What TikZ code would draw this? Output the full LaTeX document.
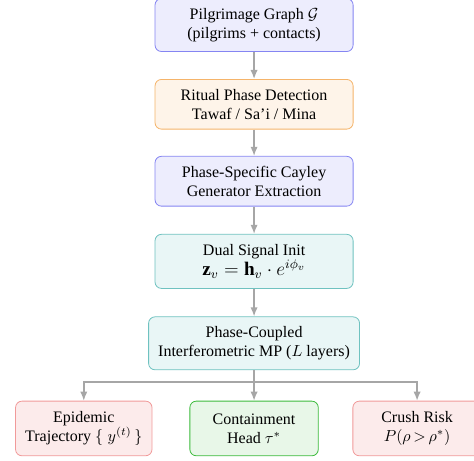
\documentclass[tikz,border=0pt]{standalone}
\usepackage{fontspec}
\setmainfont{Liberation Serif}
\usepackage{amsmath, amssymb}
\usetikzlibrary{arrows.meta,calc,positioning}
\definecolor{graphBlue}{HTML}{8585F2}
\definecolor{phaseOrange}{HTML}{F5B46A}
\definecolor{signalTeal}{HTML}{6FC2C0}
\definecolor{riskRed}{HTML}{F19A9A}
\definecolor{headGreen}{HTML}{3DBB3D}

\begin{document}
\begin{tikzpicture}[
  >=Latex,
  font=\normalsize,
  stage/.style={rounded corners=4pt, align=center, line width=0.5pt, inner sep=6pt, minimum width=4.35cm, minimum height=1.08cm},
  output/.style={rounded corners=4pt, align=center, line width=0.5pt, inner sep=6pt, minimum width=2.82cm, minimum height=1.2cm},
  bluebox/.style={draw=graphBlue, fill=graphBlue!15},
  orangebox/.style={draw=phaseOrange, fill=phaseOrange!15},
  tealbox/.style={draw=signalTeal, fill=signalTeal!15},
  redbox/.style={draw=riskRed, fill=riskRed!20},
  greenbox/.style={draw=headGreen, fill=headGreen!12},
  flow/.style={-{Latex[length=2mm, width=1.6mm]}, line width=0.9pt, draw=black!35},
  trunk/.style={line width=0.9pt, draw=black!35}
]
\useasboundingbox (0,0) rectangle (10.41,10.12);

\node[stage, bluebox] (graph) at (5.58,9.57) {Pilgrimage Graph $\mathcal{G}$\\(pilgrims + contacts)};
\node[stage, orangebox] (phase) at (5.58,7.83) {Ritual Phase Detection\\Tawaf / Sa'i / Mina};
\node[stage, bluebox] (cayley) at (5.58,6.14) {Phase-Specific Cayley\\Generator Extraction};
\node[stage, tealbox] (signal) at (5.58,4.38) {Dual Signal Init\\{\large $\mathbf{z}_v = \mathbf{h}_v \cdot e^{i\phi_v}$}};
\node[stage, tealbox] (mp) at (5.58,2.58) {Phase-Coupled\\Interferometric MP ($L$ layers)};

\node[output, redbox] (epi) at (1.84,0.71) {Epidemic\\Trajectory $\{\;y^{(t)}\,\}$};
\node[output, greenbox] (head) at (5.58,0.71) {Containment\\Head $\tau^*$};
\node[output, redbox] (crush) at (9.16,0.71) {Crush Risk\\$P(\rho\,{>}\,\rho^*)$};

\draw[flow] (graph) -- (phase);
\draw[flow] (phase) -- (cayley);
\draw[flow] (cayley) -- (signal);
\draw[flow] (signal) -- (mp);

% split towards the three heads
\coordinate (split) at (5.58,1.73);
\draw[trunk] (mp.south) -- (split);
\draw[flow] (split) -| (epi.north);
\draw[flow] (split) -- (head.north);
\draw[flow] (split) -| (crush.north);
\end{tikzpicture}
\end{document}
